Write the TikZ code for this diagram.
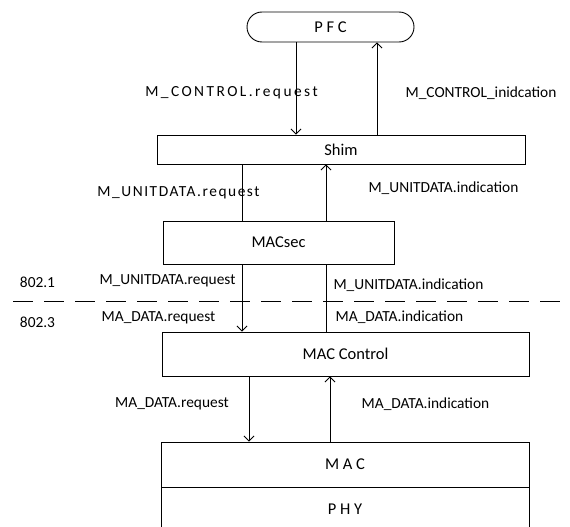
\documentclass[tikz,border=0pt]{standalone}
\usepackage{fontspec}
\setmainfont{Carlito}
\usepackage{tikz}
\usetikzlibrary{arrows.meta}
\tikzset{>={Straight Barb[length=5,width=10]}}

\begin{document}
\begin{tikzpicture}[x=1pt,y=-1pt,line width=0.9pt,
        layer/.style={draw,inner sep=0pt,font=\fontsize{16.5}{18}\selectfont},
        lbl/.style={inner sep=0pt,font=\fontsize{15.4}{17}\selectfont}]

        \def\spaced#1#2{{\addfontfeatures{LetterSpace=#1}#2}}
        \useasboundingbox (0,0) rectangle (570,527);

        % LAYERS
        \node[layer,rounded corners=15pt,minimum width=167pt,minimum height=30pt] (pfc) at (330.5,27) {P F C};
        \node[layer,minimum width=368pt,minimum height=29pt] (shim) at (341,149.5) {Shim};
        \node[layer,minimum width=231pt,minimum height=43pt] (macsec) at (278.5,242.5) {MACsec};
        \node[layer,minimum width=367pt,minimum height=44pt] (macctl) at (345.5,354) {MAC Control};
        \node[layer,minimum width=368pt,minimum height=45pt] (mac) at (345,464.5) {M A C};
        \node[layer,minimum width=368pt,minimum height=45pt] (phy) at (345,509.5) {P H Y};

        % COORDINATES
        \coordinate (ctlDown) at (296,0);
        \coordinate (ctlUp) at (377,0);
        \coordinate (unitDown) at (242,0);
        \coordinate (unitUp) at (326,0);
        \coordinate (dataDown) at (249,0);
        \coordinate (dataUp) at (330,0);
        \coordinate (dashW) at (13,301);
        \coordinate (dashE) at (570,301);

        % CONNECTORS
        \draw[->] (pfc.south -| ctlDown) -- (shim.north -| ctlDown);
        \draw[->] (shim.north -| ctlUp) -- (pfc.south -| ctlUp);
        \draw (shim.south -| unitDown) -- (macsec.north -| unitDown);
        \draw[->] (macsec.north -| unitUp) -- (shim.south -| unitUp);
        \draw[->] (macsec.south -| unitDown) -- (macctl.north -| unitDown);
        \draw (macctl.north -| unitUp) -- (macsec.south -| unitUp);
        \draw[->] (macctl.south -| dataDown) -- (mac.north -| dataDown);
        \draw[->] (mac.north -| dataUp) -- (macctl.south -| dataUp);

        % BOUNDARY
        \draw[dash pattern=on 20pt off 11pt] (dashW) -- (dashE);
        \node[lbl] (std1) at (37.5,282) {802.1};
        \node[lbl] (std3) at (37.5,322) {802.3};

        % LABELS
        \node[lbl] (ctlreq) at (231.5,93) {\spaced{16}{M\_CONTROL.request}};
        \node[lbl] (ctlind) at (481,93) {M\_CONTROL\_inidcation};
        \node[lbl] (unitreqA) at (178.5,193) {\spaced{10}{M\_UNITDATA.request}};
        \node[lbl] (unitindA) at (443.5,188) {M\_UNITDATA.indication};
        \node[lbl] (unitreqB) at (167.5,281) {M\_UNITDATA.request};
        \node[lbl] (unitindB) at (408.5,285) {M\_UNITDATA.indication};
        \node[lbl] (datareqA) at (158.5,318) {MA\_DATA.request};
        \node[lbl] (dataindA) at (399.5,317) {MA\_DATA.indication};
        \node[lbl] (datareqB) at (172,404) {MA\_DATA.request};
        \node[lbl] (dataindB) at (425.5,404) {MA\_DATA.indication};

    \end{tikzpicture}
\end{document}
